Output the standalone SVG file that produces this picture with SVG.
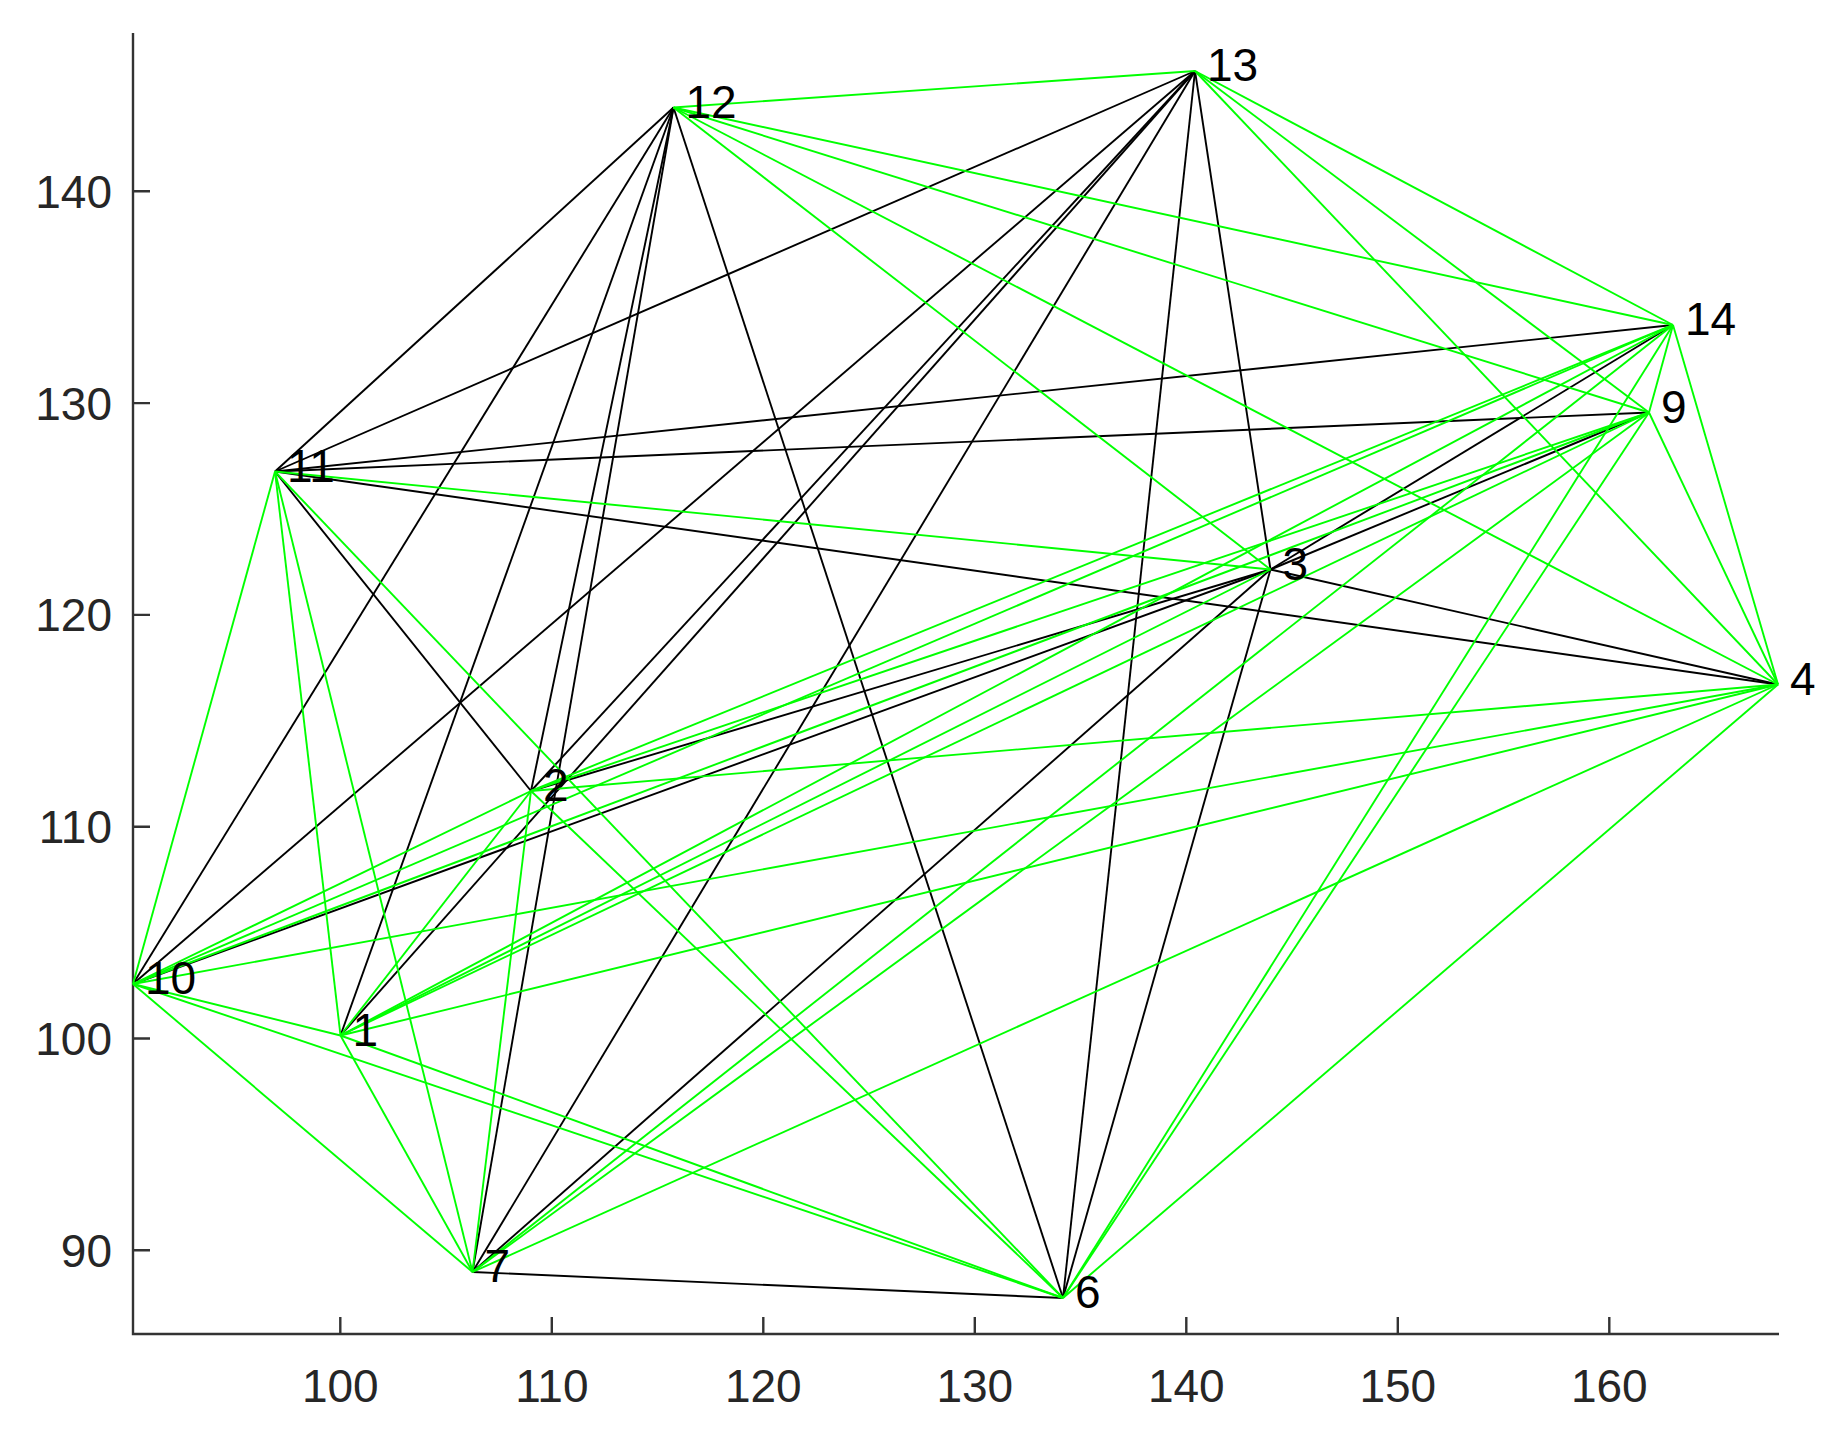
<svg xmlns="http://www.w3.org/2000/svg" width="1840" height="1437" viewBox="0 0 1840 1437">
<style>
.ax{stroke:#333;stroke-width:2.4;fill:none}
.tk{font-family:"Liberation Sans",Arial,sans-serif;font-size:46px;fill:#262626}
.lb{font-family:"Liberation Sans",Arial,sans-serif;font-size:46px;fill:#000}
.b{stroke:#000;stroke-width:1.9}
.g{stroke:#00ff00;stroke-width:1.9}
</style>
<rect width="1840" height="1437" fill="#fff"/>
<g id="axes">
<path class="ax" d="M133 33V1334H1779"/>
<path class="ax" d="M340.3 1334v-17M551.8 1334v-17M763.3 1334v-17M974.8 1334v-17M1186.3 1334v-17M1397.8 1334v-17M1609.3 1334v-17"/>
<path class="ax" d="M133 191.3h17M133 403.1h17M133 614.9h17M133 826.7h17M133 1038.5h17M133 1250.3h17"/>
<g class="tk" text-anchor="middle">
<text x="340.3" y="1402">100</text><text x="551.8" y="1402">110</text><text x="763.3" y="1402">120</text><text x="974.8" y="1402">130</text><text x="1186.3" y="1402">140</text><text x="1397.8" y="1402">150</text><text x="1609.3" y="1402">160</text>
</g>
<g class="tk" text-anchor="end">
<text x="112" y="207.8">140</text><text x="112" y="419.6">130</text><text x="112" y="631.4">120</text><text x="112" y="843.2">110</text><text x="112" y="1055">100</text><text x="112" y="1266.8">90</text>
</g>
</g>
<g id="connectors">
<g class="b">
<line x1="673.5" y1="107.5" x2="275" y2="471.5"/>
<line x1="673.5" y1="107.5" x2="133" y2="984"/>
<line x1="673.5" y1="107.5" x2="340.5" y2="1035.5"/>
<line x1="673.5" y1="107.5" x2="531" y2="791"/>
<line x1="673.5" y1="107.5" x2="472.5" y2="1272"/>
<line x1="673.5" y1="107.5" x2="1063" y2="1298"/>
<line x1="1195" y1="71" x2="275" y2="471.5"/>
<line x1="1195" y1="71" x2="133" y2="984"/>
<line x1="1195" y1="71" x2="531" y2="791"/>
<line x1="1195" y1="71" x2="340.5" y2="1035.5"/>
<line x1="1195" y1="71" x2="472.5" y2="1272"/>
<line x1="1195" y1="71" x2="1063" y2="1298"/>
<line x1="1195" y1="71" x2="1270.5" y2="569.5"/>
<line x1="275" y1="471.5" x2="1673" y2="325"/>
<line x1="275" y1="471.5" x2="1649" y2="412.5"/>
<line x1="275" y1="471.5" x2="1778" y2="684.5"/>
<line x1="275" y1="471.5" x2="531" y2="791"/>
<line x1="531" y1="791" x2="1270.5" y2="569.5"/>
<line x1="133" y1="984" x2="1270.5" y2="569.5"/>
<line x1="1270.5" y1="569.5" x2="1649" y2="412.5"/>
<line x1="1270.5" y1="569.5" x2="1673" y2="325"/>
<line x1="1270.5" y1="569.5" x2="1778" y2="684.5"/>
<line x1="1270.5" y1="569.5" x2="1063" y2="1298"/>
<line x1="1270.5" y1="569.5" x2="472.5" y2="1272"/>
<line x1="472.5" y1="1272" x2="1063" y2="1298"/>
</g>
<g class="g">
<line x1="673.5" y1="107.5" x2="1195" y2="71"/>
<line x1="673.5" y1="107.5" x2="1673" y2="325"/>
<line x1="673.5" y1="107.5" x2="1649" y2="412.5"/>
<line x1="673.5" y1="107.5" x2="1778" y2="684.5"/>
<line x1="673.5" y1="107.5" x2="1270.5" y2="569.5"/>
<line x1="1195" y1="71" x2="1673" y2="325"/>
<line x1="1195" y1="71" x2="1649" y2="412.5"/>
<line x1="1195" y1="71" x2="1778" y2="684.5"/>
<line x1="275" y1="471.5" x2="1270.5" y2="569.5"/>
<line x1="275" y1="471.5" x2="133" y2="984"/>
<line x1="275" y1="471.5" x2="340.5" y2="1035.5"/>
<line x1="275" y1="471.5" x2="472.5" y2="1272"/>
<line x1="275" y1="471.5" x2="1063" y2="1298"/>
<line x1="1673" y1="325" x2="1649" y2="412.5"/>
<line x1="1673" y1="325" x2="1778" y2="684.5"/>
<line x1="1649" y1="412.5" x2="1778" y2="684.5"/>
<line x1="1673" y1="325" x2="531" y2="791"/>
<line x1="1649" y1="412.5" x2="531" y2="791"/>
<line x1="1778" y1="684.5" x2="531" y2="791"/>
<line x1="1673" y1="325" x2="133" y2="984"/>
<line x1="1649" y1="412.5" x2="133" y2="984"/>
<line x1="1778" y1="684.5" x2="133" y2="984"/>
<line x1="1673" y1="325" x2="340.5" y2="1035.5"/>
<line x1="1649" y1="412.5" x2="340.5" y2="1035.5"/>
<line x1="1778" y1="684.5" x2="340.5" y2="1035.5"/>
<line x1="1270.5" y1="569.5" x2="340.5" y2="1035.5"/>
<line x1="1673" y1="325" x2="472.5" y2="1272"/>
<line x1="1649" y1="412.5" x2="472.5" y2="1272"/>
<line x1="1778" y1="684.5" x2="472.5" y2="1272"/>
<line x1="1673" y1="325" x2="1063" y2="1298"/>
<line x1="1649" y1="412.5" x2="1063" y2="1298"/>
<line x1="1778" y1="684.5" x2="1063" y2="1298"/>
<line x1="133" y1="984" x2="531" y2="791"/>
<line x1="133" y1="984" x2="340.5" y2="1035.5"/>
<line x1="133" y1="984" x2="472.5" y2="1272"/>
<line x1="133" y1="984" x2="1063" y2="1298"/>
<line x1="340.5" y1="1035.5" x2="531" y2="791"/>
<line x1="340.5" y1="1035.5" x2="472.5" y2="1272"/>
<line x1="340.5" y1="1035.5" x2="1063" y2="1298"/>
<line x1="531" y1="791" x2="472.5" y2="1272"/>
<line x1="531" y1="791" x2="1063" y2="1298"/>
</g>
</g>
<g class="lb">
<g id="node-1"><text x="352.5" y="1045.5">1</text></g>
<g id="node-2"><text x="543" y="801">2</text></g>
<g id="node-3"><text x="1282.5" y="579.5">3</text></g>
<g id="node-4"><text x="1790" y="694.5">4</text></g>
<g id="node-6"><text x="1075" y="1308">6</text></g>
<g id="node-7"><text x="484.5" y="1282">7</text></g>
<g id="node-9"><text x="1661" y="422.5">9</text></g>
<g id="node-10"><text x="145" y="994">10</text></g>
<g id="node-11"><text x="287" y="481.5">11</text></g>
<g id="node-12"><text x="685.5" y="117.5">12</text></g>
<g id="node-13"><text x="1207" y="81">13</text></g>
<g id="node-14"><text x="1685" y="335">14</text></g>
</g>
</svg>
